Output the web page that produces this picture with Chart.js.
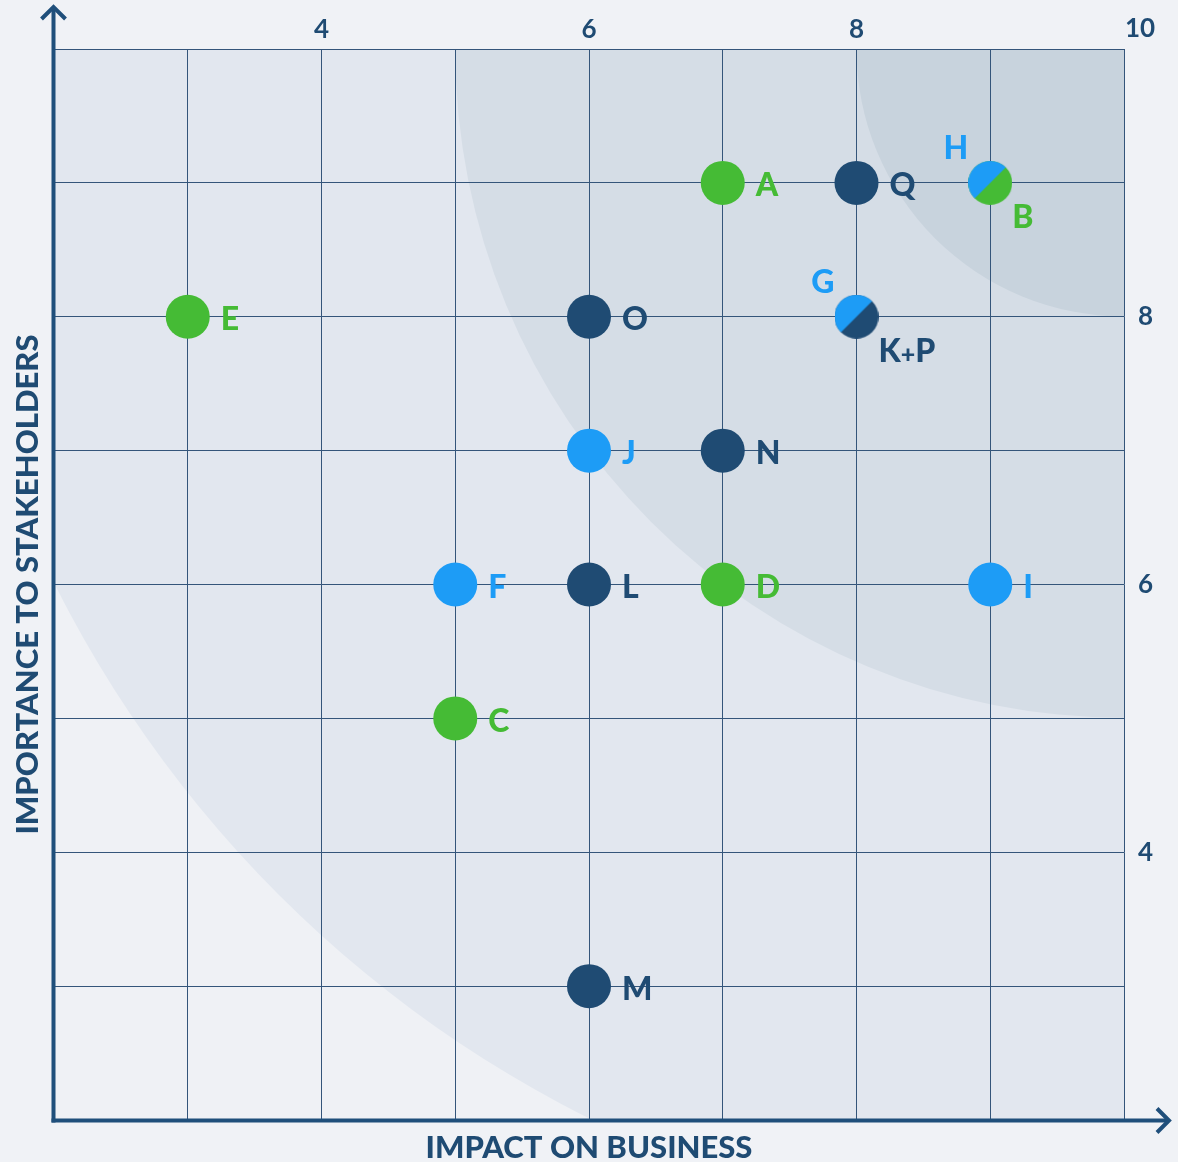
<!DOCTYPE html>
<html><head><meta charset="utf-8">
<script src="https://cdn.jsdelivr.net/npm/chart.js@4.4.1/dist/chart.umd.min.js"></script>
<style>html,body{margin:0;padding:0;background:#f0f2f6;} canvas{display:block;}</style>
</head><body>
<canvas id="c" width="1178" height="1162"></canvas>
<script>
// ---- data ----
const xTitle = 'IMPACT ON BUSINESS';
const yTitle = 'IMPORTANCE TO STAKEHOLDERS';
const xTickLabels = [4, 6, 8];
const yTickLabels = [4, 6, 8];
const cornerTickLabel = '10';

const greenNames = ['A', 'E', 'D', 'C'];
const greenX = [7, 3, 7, 5];
const greenY = [9, 8, 6, 5];

const blueNames = ['J', 'F', 'I'];
const blueX = [6, 5, 9];
const blueY = [7, 6, 6];

const navyNames = ['Q', 'O', 'N', 'L', 'M'];
const navyX = [8, 6, 7, 6, 6];
const navyY = [9, 8, 7, 6, 3];

const splitTopNames = ['H', 'G'];
const splitBottomNames = ['B', 'K+P'];
const splitX = [9, 8];
const splitY = [9, 8];

const zoneRadii = [8.94, 5, 2]; // distance from the (10,10) corner

// ---- styles ----
const COL = { green: '#45bb35', blue: '#1d9cf6', navy: '#1f4b73', axis: '#1f4f7b', grid: '#34557a', text: '#1f4b73' };
const zoneColors = ['#e2e7ef', '#d5dde6', '#c8d3dd'];
const plotBase = '#eff1f5';
const splitTopColors = [COL.blue, COL.blue];
const splitBottomColors = [COL.green, COL.navy];
const FONT = 'Lato, "Noto Sans", sans-serif';
const LABEL_SIZE = 32;
const LABEL_WEIGHT = '900';
const R = 22;

function splitImage(topColor, bottomColor) {
  const c = document.createElement('canvas');
  c.width = 2 * R; c.height = 2 * R;
  const g = c.getContext('2d');
  g.beginPath(); g.arc(R, R, R, 0, Math.PI * 2); g.closePath(); g.clip();
  g.fillStyle = bottomColor; g.fillRect(0, 0, 2 * R, 2 * R);
  g.beginPath(); g.moveTo(-1, -1); g.lineTo(2 * R + 1, -1); g.lineTo(-1, 2 * R + 1); g.closePath();
  g.fillStyle = topColor; g.fill();
  return c;
}

function pts(xs, ys) { return xs.map((x, i) => ({ x: x, y: ys[i] })); }

const datasets = [
  { label: 'green', data: pts(greenX, greenY), backgroundColor: COL.green, names: greenNames, color: COL.green },
  { label: 'blue', data: pts(blueX, blueY), backgroundColor: COL.blue, names: blueNames, color: COL.blue },
  { label: 'navy', data: pts(navyX, navyY), backgroundColor: COL.navy, names: navyNames, color: COL.navy },
  { label: 'split', data: pts(splitX, splitY), backgroundColor: COL.blue,
    pointStyle: splitTopColors.map((t, i) => splitImage(t, splitBottomColors[i])) }
].map(d => Object.assign({ pointRadius: R, pointHoverRadius: R, borderWidth: 0 }, d));

function drawLabel(ctx, text, x, y, align, color) {
  const cap = LABEL_SIZE * 0.7165;
  ctx.fillStyle = color;
  ctx.textBaseline = 'alphabetic';
  const parts = text.split(/(\+)/).filter(s => s.length);
  const fontFor = p => LABEL_WEIGHT + ' ' + (p === '+' ? 25 : LABEL_SIZE) + 'px ' + FONT;
  let widths = parts.map(p => { ctx.font = fontFor(p); return ctx.measureText(p).width; });
  const total = widths.reduce((a, b) => a + b, 0);
  let sx = align === 'left' ? x : align === 'right' ? x - total : x - total / 2;
  ctx.textAlign = 'left';
  parts.forEach((p, i) => {
    ctx.font = fontFor(p);
    ctx.fillText(p, sx, y + cap / 2 + (p === '+' ? 1 : 0));
    sx += widths[i];
  });
}

const decor = {
  id: 'decor',
  beforeDraw(chart) {
    const { ctx, chartArea: a, scales: { x, y } } = chart;
    ctx.save();
    ctx.beginPath(); ctx.rect(a.left, a.top, a.right - a.left, a.bottom - a.top); ctx.clip();
    ctx.fillStyle = plotBase; ctx.fillRect(a.left, a.top, a.right - a.left, a.bottom - a.top);
    const cx = x.getPixelForValue(10), cy = y.getPixelForValue(10);
    zoneRadii.forEach((r, i) => {
      const rp = cx - x.getPixelForValue(10 - r);
      ctx.beginPath(); ctx.arc(cx, cy, rp, 0, Math.PI * 2);
      ctx.fillStyle = zoneColors[i]; ctx.fill();
    });
    ctx.restore();
  },
  afterDraw(chart) {
    const { ctx, chartArea: a, scales: { x, y } } = chart;
    ctx.save();
    // axes
    ctx.strokeStyle = COL.axis; ctx.lineWidth = 4; ctx.lineCap = 'butt'; ctx.lineJoin = 'miter';
    const lx = a.left - 0.5, by = a.bottom + 0.5;
    ctx.beginPath(); ctx.moveTo(lx, by + 2); ctx.lineTo(lx, a.top - 42); ctx.stroke();
    ctx.beginPath(); ctx.moveTo(lx - 12, a.top - 30); ctx.lineTo(lx, a.top - 42); ctx.lineTo(lx + 12, a.top - 30); ctx.stroke();
    ctx.beginPath(); ctx.moveTo(lx - 2, by); ctx.lineTo(a.right + 45, by); ctx.stroke();
    ctx.beginPath(); ctx.moveTo(a.right + 33, by - 12); ctx.lineTo(a.right + 45, by); ctx.lineTo(a.right + 33, by + 12); ctx.stroke();
    // axis titles
    ctx.fillStyle = COL.text; ctx.font = '900 31px ' + FONT; ctx.textAlign = 'center'; ctx.textBaseline = 'alphabetic';
    ctx.fillText(xTitle, (a.left + a.right) / 2, a.bottom + 38);
    ctx.save();
    ctx.translate(a.left - 16, (a.top + a.bottom) / 2);
    ctx.rotate(-Math.PI / 2);
    ctx.fillText(yTitle, 0, 0);
    ctx.restore();
    // corner tick label
    ctx.font = 'bold 26px ' + FONT; ctx.textAlign = 'center'; ctx.textBaseline = 'middle';
    ctx.fillText(cornerTickLabel, x.getPixelForValue(10) + 16, a.top - 20);
    // point labels
    chart.data.datasets.forEach((ds, di) => {
      const meta = chart.getDatasetMeta(di);
      meta.data.forEach((el, j) => {
        if (ds.names) {
          drawLabel(ctx, ds.names[j], el.x + 33, el.y + 2, 'left', ds.color);
        } else {
          drawLabel(ctx, splitTopNames[j], el.x - 22, el.y - 35, 'right', splitTopColors[j]);
          drawLabel(ctx, splitBottomNames[j], el.x + 22, el.y + 34, 'left', splitBottomColors[j]);
        }
      });
    });
    ctx.restore();
  }
};

const tickFont = { family: FONT, size: 26, weight: 'bold' };

new Chart(document.getElementById('c'), {
  type: 'scatter',
  data: { datasets },
  options: {
    responsive: false,
    animation: false,
    events: [],
    layout: { padding: { left: 54, bottom: 42, top: 0, right: 0 } },
    plugins: { legend: { display: false }, tooltip: { enabled: false } },
    scales: {
      x: {
        type: 'linear', position: 'top', min: 2, max: 10,
        afterFit(s) { s.height = 49; },
        grid: { color: COL.grid, lineWidth: 1, drawTicks: false },
        border: { display: false },
        ticks: { stepSize: 1, autoSkip: false, padding: 4, color: COL.text, font: tickFont,
          callback: v => xTickLabels.includes(v) ? String(v) : '' }
      },
      y: {
        type: 'linear', position: 'right', min: 2, max: 10,
        afterFit(s) { s.width = 54; },
        grid: { color: COL.grid, lineWidth: 1, drawTicks: false },
        border: { display: false },
        ticks: { stepSize: 1, autoSkip: false, padding: 14, color: COL.text, font: tickFont,
          callback: v => yTickLabels.includes(v) ? String(v) : '' }
      }
    }
  },
  plugins: [decor]
});
</script>
</body></html>
